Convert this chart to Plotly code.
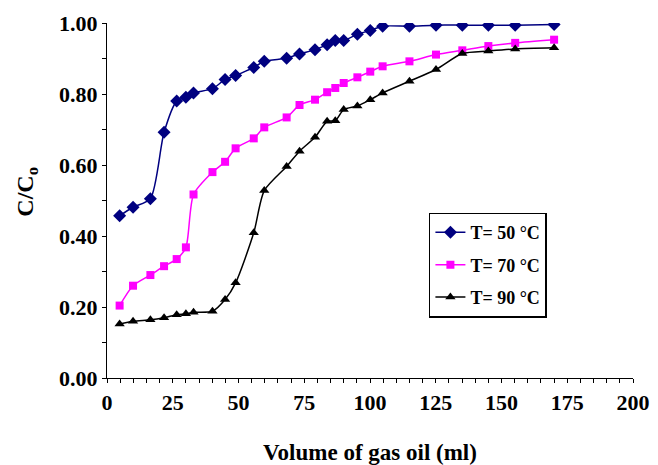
import plotly.graph_objects as go

volume_ml = [4.8, 9.9, 16.5, 21.7, 26.5, 30.0, 32.9, 40.1, 44.9, 48.9, 55.8, 59.8, 68.3,
             73.2, 79.1, 83.7, 86.8, 90.0, 95.2, 100.1, 104.8, 115.0, 125.1, 135.1, 145.0,
             155.2, 170.0]

c_50 = [0.457, 0.481, 0.505, 0.692, 0.780, 0.791, 0.803, 0.815, 0.841, 0.852, 0.875, 0.892,
        0.901, 0.913, 0.925, 0.939, 0.951, 0.951, 0.968, 0.979, 0.991, 0.991, 0.994, 0.994,
        0.994, 0.994, 0.996]

c_70 = [0.204, 0.260, 0.290, 0.315, 0.335, 0.368, 0.517, 0.580, 0.609, 0.647, 0.675, 0.706,
        0.734, 0.769, 0.784, 0.805, 0.817, 0.831, 0.847, 0.863, 0.878, 0.892, 0.911, 0.923,
        0.935, 0.944, 0.953]

c_90 = [0.152, 0.160, 0.164, 0.170, 0.178, 0.181, 0.185, 0.188, 0.221, 0.268, 0.409, 0.528,
        0.596, 0.639, 0.678, 0.723, 0.725, 0.756, 0.766, 0.784, 0.803, 0.836, 0.869, 0.914,
        0.921, 0.927, 0.930]

series_names = ["T= 50 °C", "T= 70 °C", "T= 90 °C"]
x_ticks = [0, 25, 50, 75, 100, 125, 150, 175, 200]
y_ticks = [0.0, 0.2, 0.4, 0.6, 0.8, 1.0]
x_title = "Volume of gas oil (ml)"
y_title = "C/C<sub>o</sub>"

FONT = "Liberation Serif"

styles = [
    dict(color="#000080", symbol="diamond", size=10),
    dict(color="#FF00FF", symbol="square", size=8),
    dict(color="#000000", symbol="triangle-up", size=9),
]

fig = go.Figure()
for i, (name, ys, st) in enumerate(zip(series_names, [c_50, c_70, c_90], styles)):
    fig.add_trace(go.Scatter(
        x=volume_ml, y=ys, name=name, mode="lines+markers",
        line=dict(color=st["color"], width=1.5, shape="spline", smoothing=0.7),
        marker=dict(color=st["color"], symbol=st["symbol"], size=st["size"],
                    line=dict(width=0)),
        legendgroup=f"g{i}",
    ))

# page body has an 8px margin, so the figure is 650x457 drawn at (8, 8)
fig.update_layout(
    width=650, height=457,
    margin=dict(l=99, r=25, t=15, b=87),
    paper_bgcolor="white", plot_bgcolor="white",
    font=dict(family=FONT, color="black"),
    showlegend=True,
    legend=dict(
        x=0.612, y=0.466, xanchor="left", yanchor="top",
        bordercolor="black", borderwidth=1.5, bgcolor="white",
        font=dict(family=FONT, size=18, color="black", weight="bold"),
        tracegroupgap=6, itemwidth=30,
    ),
    annotations=[dict(
        text=y_title, textangle=-90, xref="paper", yref="paper",
        x=-0.152, y=0.525, xanchor="center", yanchor="middle", showarrow=False,
        font=dict(family=FONT, size=24, color="black", weight="bold"),
    )],
)

fig.update_xaxes(
    range=[0, 200], tickvals=x_ticks, ticktext=[str(v) for v in x_ticks],
    showline=True, linecolor="black", linewidth=1.3, showgrid=False, zeroline=False,
    ticks="outside", ticklen=4, tickcolor="black", tickwidth=1,
    minor=dict(dtick=5, ticks="outside", ticklen=4, tickcolor="black", showgrid=False),
    tickfont=dict(family=FONT, size=22, color="black", weight="bold"),
    title=dict(text=x_title, standoff=31,
               font=dict(family=FONT, size=23, color="black", weight="bold")),
    automargin=False,
)

fig.update_yaxes(
    range=[0, 1.0], tickvals=y_ticks, ticktext=[f"{v:.2f}" for v in y_ticks],
    showline=True, linecolor="black", linewidth=1.3, showgrid=False, zeroline=False,
    ticks="outside", ticklen=4, tickcolor="black", tickwidth=1,
    minor=dict(dtick=0.1, ticks="outside", ticklen=4, tickcolor="black", showgrid=False),
    tickfont=dict(family=FONT, size=22, color="black", weight="bold"),
    automargin=False,
)

fig.write_html("out.html")
